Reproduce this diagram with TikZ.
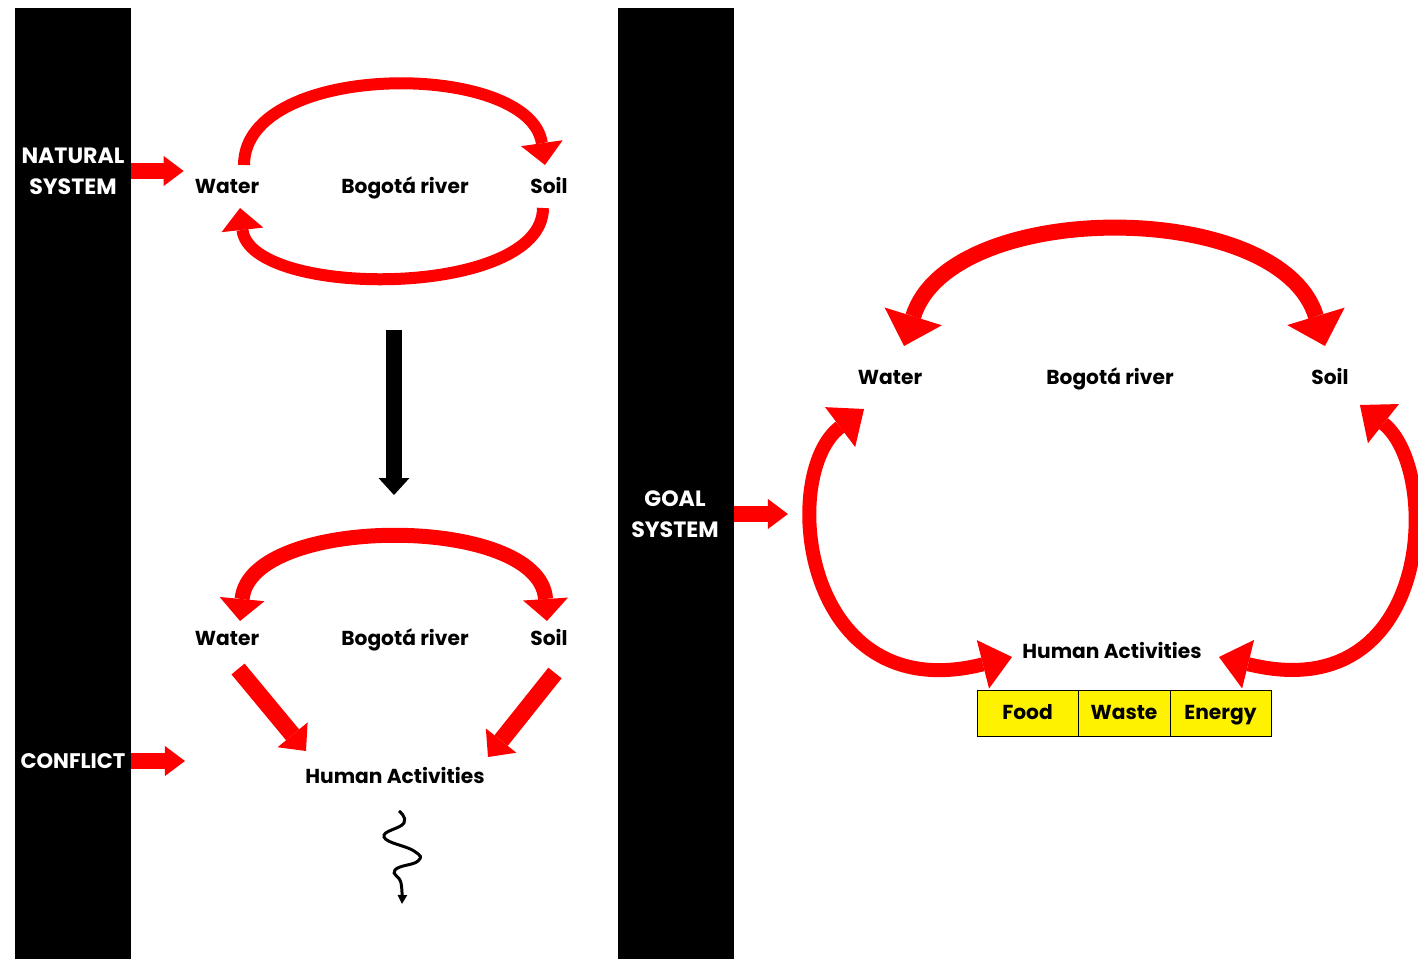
\documentclass[tikz,border=0pt]{standalone}
\usepackage{fontspec}
\setmainfont{Poppins}
\usepackage{tikz}
\usetikzlibrary{positioning,calc,arrows.meta}
\tikzstyle{bar} = [rectangle, fill=black, draw=none, minimum width=2.32cm, minimum height=19.02cm, outer sep=0pt, anchor=north west]
\tikzstyle{bartext} = [text=white, align=center, font=\bfseries\fontsize{12.6}{17.6}\selectfont]
\tikzstyle{novertex} = [draw=none, fill=none, text centered, text height=0.85em, text depth=0.15em, font=\bfseries\fontsize{11.5}{13}\selectfont]
\tikzstyle{cell} = [rectangle, draw, thin, fill=yellow, minimum height=0.92cm, outer sep=0pt, text centered, text height=0.85em, text depth=0.15em, font=\bfseries\fontsize{11.5}{13}\selectfont]
\tikzstyle{feed} = [draw=red, line width=0.32cm, -{Triangle[length=0.4cm, width=0.6cm, line width=0pt]}]
\tikzstyle{down} = [draw=black, line width=0.32cm, -{Triangle[length=0.34cm, width=0.62cm, line width=0pt]}]
\tikzstyle{roundarrow} = [draw=red, line width=0.24cm, -{Triangle[length=0.44cm, width=0.84cm, line width=0pt]}]
\tikzstyle{twoway} = [draw=red, line width=0.3cm, {Triangle[length=0.44cm, width=0.9cm, line width=0pt]}-{Triangle[length=0.44cm, width=0.9cm, line width=0pt]}]
\tikzstyle{push} = [draw=red, line width=0.34cm, -{Triangle[length=0.42cm, width=0.78cm, line width=0pt]}]
\tikzstyle{bigtwoway} = [draw=red, line width=0.32cm, {Triangle[length=0.62cm, width=1.2cm, line width=0pt]}-{Triangle[length=0.62cm, width=1.2cm, line width=0pt]}]
\tikzstyle{sidetwoway} = [draw=red, line width=0.28cm, {Triangle[length=0.6cm, width=1.0cm, line width=0pt]}-{Triangle[length=0.6cm, width=1.0cm, line width=0pt]}]
\tikzstyle{wiggle} = [draw=black, line width=1.7pt, -{Triangle[length=0.18cm, width=0.18cm]}]

\begin{document}
\begin{tikzpicture}[x=0.02cm, y=-0.02cm]
	\useasboundingbox (0,0) rectangle (1418,959);

	% black bars
	\node [bar] (B1) at (15,8) {};
	\node [bar] (B2) at (618,8) {};
	\node [bartext] (NS) at (73,171) {NATURAL\\SYSTEM};
	\node [bartext, font=\bfseries\fontsize{12}{17.6}\selectfont] (CF) at (73,761) {CONFLICT};
	\node [bartext] (GS) at (675,514) {GOAL\\SYSTEM};

	% natural system
	\node [novertex] (R1) at (405,187) {Bogotá river};
	\node [novertex, left of=R1, node distance=3.56cm]  (W1) {Water};
	\node [novertex, right of=R1, node distance=2.88cm] (S1) {Soil};

	% conflict
	\node [novertex] (R2) at (405,639) {Bogotá river};
	\node [novertex, left of=R2, node distance=3.56cm]  (W2) {Water};
	\node [novertex, right of=R2, node distance=2.88cm] (S2) {Soil};
	\node [novertex] (H2) at (395,777) {Human Activities};

	% goal system
	\node [novertex] (R3) at (1110,378) {Bogotá river};
	\node [novertex, left of=R3, node distance=4.4cm]  (W3) {Water};
	\node [novertex, right of=R3, node distance=4.4cm] (S3) {Soil};
	\node [novertex] (H3) at (1112,652) {Human Activities};
	\node [cell, minimum width=2.02cm] (F3) at (1027.5,713) {Food};
	\node [cell, minimum width=1.84cm, right=0pt of F3] (WA3) {Waste};
	\node [cell, minimum width=2.02cm, right=0pt of WA3] (E3) {Energy};

	% draw edges
	\path [feed] (B1.east |- NS) -- (NS -| W1.west) [shorten >=0.1cm];
	\path [feed] (B1.east |- CF) -- ($(B1.east |- CF)+(54,0)$);
	\path [feed] (B2.east |- GS) -- ($(B2.east |- GS)+(54,0)$);

	\path [roundarrow] ($(W1)+(17,-22)$) .. controls ($(W1)+(17,-127)$) and ($(S1)+(-19,-127)$) .. ($(S1)+(-4,-22)$);
	\path [roundarrow] ($(S1)+(-6,21)$) .. controls ($(S1)+(-6,112)$) and ($(W1)+(23,112)$) .. ($(W1)+(13,21)$);
	\path [down] ($(R1)+(-11,143)$) -- ($(R2)+(-11,-144)$);

	\path [twoway] ($(W2)+(13,-18)$) .. controls ($(W2)+(23,-125)$) and ($(S2)+(-9,-125)$) .. ($(S2)+(-2,-18)$);
	\path [push] ($(W2)+(11,30)$) -- ($(H2)+(-89,-26)$);
	\path [push] ($(S2)+(6,34)$) -- ($(H2)+(93,-20)$);
	\coordinate (q0) at ($(H2)+(4,34)$);
	\draw [wiggle] plot [smooth, tension=0.8] coordinates {(q0) (404,823) (384,837) (414,851) (418,861) (395,870) (401,883) (402,904)};

	\path [bigtwoway] ($(W3)+(14,-32)$) .. controls ($(W3)+(60,-180)$) and ($(S3)+(-50,-180)$) .. ($(S3)+(-5,-32)$);
	\path [sidetwoway] ($(W3)+(-26,31)$) .. controls ($(W3)+(-112,96)$) and ($(H3)+(-310,58)$) .. ($(H3)+(-100,5)$);
	\path [sidetwoway] ($(S3)+(30,27)$) .. controls ($(S3)+(112,92)$) and ($(H3)+(322,58)$) .. ($(H3)+(107,5)$);
\end{tikzpicture}
\end{document}
